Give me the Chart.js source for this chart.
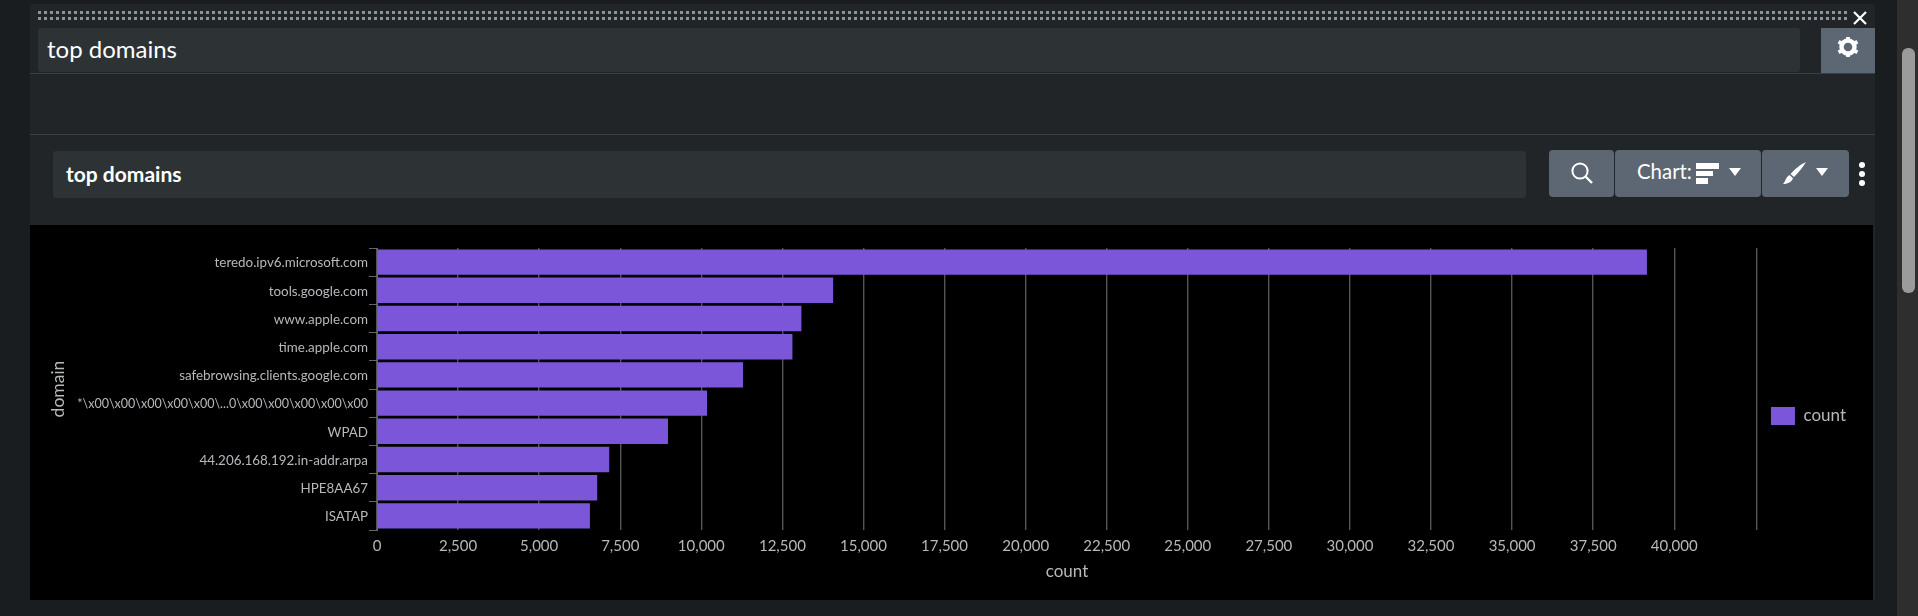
<!DOCTYPE html>
<html>
<head>
<meta charset="utf-8">
<title>top domains</title>
<script src="https://cdn.jsdelivr.net/npm/chart.js@4/dist/chart.umd.js"></script>
<style>
  html, body { margin: 0; padding: 0; width: 1918px; height: 616px; overflow: hidden; background: #191d20; font-family: Lato, "Open Sans", sans-serif; color: #fff; }
  .abs { position: absolute; box-sizing: border-box; }
  #panel { left: 30px; top: 4px; width: 1845px; height: 596px; background: #212527; border-radius: 2px 2px 0 0; }
  .dots { left: 38px; width: 1810px; height: 3px; background: repeating-linear-gradient(90deg, #8a959c 0 3px, transparent 3px 6px); }
  #titleBox { left: 38px; top: 28px; width: 1762px; height: 44px; background: #2d3235; border-radius: 3px; font-size: 24px; line-height: 42px; padding-left: 9px; }
  #panelBox { left: 53px; top: 151px; width: 1473px; height: 47px; background: #2d3235; border-radius: 3px; font-size: 21px; font-weight: 700; line-height: 45px; padding-left: 13px; }
  .rule { left: 30px; width: 1845px; height: 1px; background: #353f45; }
  #gear { left: 1821px; top: 28px; width: 54px; height: 45px; background: #5c6773; }
  .btn { top: 150px; height: 47px; background: #5c6773; border-radius: 4px; }
  #chartLabel { left: 1637px; top: 148px; font-size: 20.4px; line-height: 47px; }
  .kebab { left: 1859px; width: 6px; height: 6px; border-radius: 50%; background: #fff; }
  #track { left: 1897px; top: 0; width: 21px; height: 616px; background: #2e2e2e; }
  #thumb { left: 1902px; top: 48px; width: 13px; height: 245px; background: #9b9b9b; border-radius: 6px; }
  #plot { left: 30px; top: 225px; width: 1843px; height: 375px; background: #000; }
  svg { position: absolute; overflow: visible; }
</style>
</head>
<body>
<div class="abs" id="track"></div>
<div class="abs" id="thumb"></div>
<div class="abs" id="panel"></div>
<div class="abs dots" style="top:11px"></div>
<div class="abs dots" style="top:17px"></div>
<svg style="left:1853px;top:11px" width="14" height="14"><path d="M1 1 L13 13 M13 1 L1 13" stroke="#fff" stroke-width="2.2"/></svg>
<div class="abs" id="titleBox">top domains</div>
<div class="abs" id="gear"></div>
<svg style="left:1837px;top:36px" width="22" height="22" viewBox="0 0 22 22">
  <circle cx="11" cy="11" r="6.5" fill="none" stroke="#fff" stroke-width="4.4"/>
  <path d="M11 1 V5 M11 17 V21 M1.6 5.6 L5 7.6 M17 14.4 L20.4 16.4 M1.6 16.4 L5 14.4 M17 7.6 L20.4 5.6" stroke="#fff" stroke-width="3.8"/>
</svg>
<div class="abs rule" style="top:73px"></div>
<div class="abs rule" style="top:134px"></div>
<div class="abs" id="panelBox">top domains</div>
<div class="abs btn" style="left:1549px;width:65px"></div>
<div class="abs btn" style="left:1615px;width:146px"></div>
<div class="abs btn" style="left:1762px;width:87px"></div>
<svg style="left:1570px;top:161px" width="24" height="24"><circle cx="10" cy="10" r="7.6" fill="none" stroke="#fff" stroke-width="2"/><path d="M15.5 15.5 L22 22" stroke="#fff" stroke-width="2.4"/></svg>
<div class="abs" id="chartLabel">Chart:</div>
<svg style="left:1696px;top:163px" width="23" height="21"><rect x="0" y="0" width="23" height="6" fill="#fff"/><rect x="0" y="8" width="17" height="5" fill="#fff"/><rect x="0" y="15" width="12" height="6" fill="#fff"/></svg>
<svg style="left:1729px;top:168px" width="12" height="8"><path d="M0 0 H12 L6 8 Z" fill="#fff"/></svg>
<svg style="left:1783px;top:161px" width="24" height="24"><path d="M23 1 C 20 6 15 12 11 16 L 7.5 13 C 12 8 18 3 23 1 Z M6.5 14 L10 17.2 C 8.5 21.5 4 23 0 23 C 2.5 21 2.5 16 6.5 14 Z" fill="#fff"/></svg>
<svg style="left:1816px;top:168px" width="12" height="8"><path d="M0 0 H12 L6 8 Z" fill="#fff"/></svg>
<div class="abs kebab" style="top:162px"></div>
<div class="abs kebab" style="top:171px"></div>
<div class="abs kebab" style="top:180px"></div>
<div class="abs" id="plot"><canvas id="c" width="1843" height="375" style="display:block;width:1843px;height:375px"></canvas></div>

<script>
  // Query results: event count per DNS domain
  const domains = [
    "teredo.ipv6.microsoft.com",
    "tools.google.com",
    "www.apple.com",
    "time.apple.com",
    "safebrowsing.clients.google.com",
    "*\\x00\\x00\\x00\\x00\\x00\\...0\\x00\\x00\\x00\\x00\\x00",
    "WPAD",
    "44.206.168.192.in-addr.arpa",
    "HPE8AA67",
    "ISATAP"
  ];
  const counts = [39157, 14065, 13086, 12809, 11287, 10176, 8972, 7160, 6790, 6565];
  const countTicks = [0, 2500, 5000, 7500, 10000, 12500, 15000, 17500, 20000, 22500,
                      25000, 27500, 30000, 32500, 35000, 37500, 40000];
  const seriesName = "count";
  const barColor = "#7c56d9";
  const axisMax = 42550;
  const textColor = "#b5b9bc";
  const fontFamily = "Lato, 'Open Sans', sans-serif";

  // Lifts the legend to sit a little above the centre of the canvas
  const legendShift = {
    id: "legendShift",
    afterLayout(chart) {
      chart.legend.top -= 8;
      chart.legend.bottom -= 8;
    }
  };

  new Chart(document.getElementById("c"), {
    type: "bar",
    plugins: [legendShift],
    data: {
      labels: domains,
      datasets: [{
        label: seriesName,
        data: counts,
        backgroundColor: barColor,
        barPercentage: 0.9,
        categoryPercentage: 1
      }]
    },
    options: {
      indexAxis: "y",
      responsive: false,
      animation: false,
      layout: { padding: { top: 23, bottom: 0, left: 18, right: 17 } },
      plugins: {
        tooltip: { enabled: false },
        legend: {
          position: "right",
          labels: {
            color: textColor,
            font: { family: fontFamily, size: 17 },
            boxWidth: 24,
            boxHeight: 18,
            padding: 14
          }
        }
      },
      scales: {
        x: {
          type: "linear",
          min: 0,
          max: axisMax,
          afterBuildTicks(axis) {
            // The closing line at the end of the axis carries no label
            axis.ticks = countTicks.concat(axisMax).map(value => ({ value }));
          },
          afterFit(axis) { axis.height = 70; },
          ticks: {
            color: textColor,
            font: { family: fontFamily, size: 15 },
            padding: 7,
            maxRotation: 0,
            autoSkip: false,
            callback: v => countTicks.includes(v) ? v.toLocaleString("en-US") : ""
          },
          grid: { color: "#555", lineWidth: 1.4, drawTicks: false },
          border: { display: false },
          title: {
            display: true,
            text: "count",
            color: textColor,
            font: { family: fontFamily, size: 17 },
            padding: { top: 0, bottom: 18 }
          }
        },
        y: {
          type: "category",
          afterFit(axis) { axis.width = 329; },
          ticks: {
            color: textColor,
            // The long escaped name is set slightly smaller so it clears the axis title
            font: ctx => ({ family: fontFamily, size: ctx.index === 5 ? 12.5 : 13.4 }),
            padding: 1,
            labelOffset: 1,
            autoSkip: false
          },
          grid: { color: "#666", offset: true, drawOnChartArea: false, drawTicks: true, tickLength: 8, lineWidth: 1 },
          border: { display: true, color: "#666" },
          title: {
            display: true,
            text: "domain",
            color: textColor,
            font: { family: fontFamily, size: 17.5 },
            padding: { top: 0, bottom: 0 }
          }
        }
      }
    }
  });
</script>
</body>
</html>
